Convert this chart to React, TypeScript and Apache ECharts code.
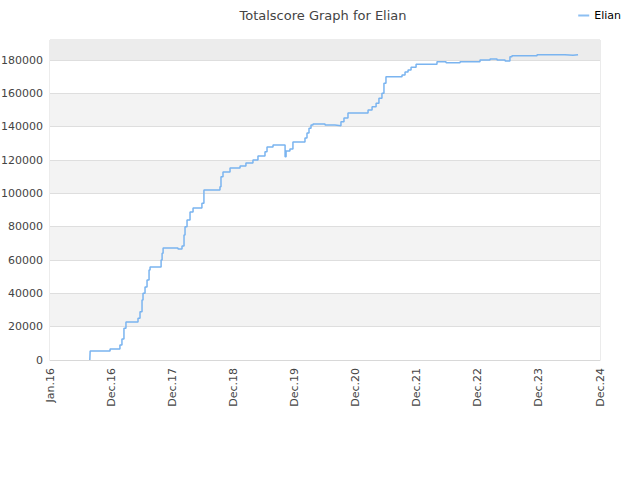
import React, { useEffect, useRef } from "react";
import * as echarts from "echarts";

const seriesName = "Elian";
const titleText = "Totalscore Graph for Elian";

const dates: string[] = [
  "2016-08-26", "2016-08-28", "2016-12-25", "2017-02-22", "2017-03-06", "2017-03-18",
  "2017-03-30", "2017-06-10", "2017-06-22", "2017-07-04", "2017-07-10", "2017-07-22",
  "2017-08-03", "2017-08-15", "2017-08-21", "2017-10-26", "2017-11-01", "2017-11-07",
  "2018-02-04", "2018-02-28", "2018-03-12", "2018-03-18", "2018-03-30", "2018-04-17",
  "2018-05-05", "2018-06-27", "2018-07-09", "2018-10-13", "2018-10-19", "2018-10-31",
  "2018-12-12", "2019-02-10", "2019-03-17", "2019-04-28", "2019-05-28", "2019-07-09",
  "2019-07-21", "2019-08-26", "2019-11-06", "2019-11-12", "2019-12-05", "2019-12-23",
  "2020-03-04", "2020-03-16", "2020-03-28", "2020-04-09", "2020-04-21", "2020-07-02",
  "2020-08-30", "2020-10-05", "2020-10-23", "2020-11-16", "2021-03-16", "2021-04-09",
  "2021-05-03", "2021-05-20", "2021-06-07", "2021-06-19", "2021-07-01", "2021-10-05",
  "2021-10-23", "2021-11-10", "2021-11-28", "2021-12-28", "2022-05-02", "2022-06-25",
  "2022-09-17", "2023-01-14", "2023-03-15", "2023-04-26", "2023-06-13", "2023-07-12",
  "2023-07-24", "2023-12-21", "2024-06-05", "2024-07-23", "2024-08-22",
];

const scores: number[] = [
  0, 5400, 6600, 9000, 12600, 19000,
  22800, 25000, 29000, 36000, 40000, 43800,
  48000, 54000, 55800, 60000, 64000, 67200,
  66600, 68400, 75000, 80000, 84000, 88800,
  91200, 94000, 102000, 104000, 110000, 112800,
  115200, 116400, 118200, 120000, 122400, 125000,
  127800, 129000, 122000, 125400, 126600, 130800,
  133200, 136200, 139000, 141000, 141600, 141000,
  140600, 143000, 145200, 148200, 150000, 152000,
  154000, 157000, 160000, 166000, 170000, 171000,
  172800, 174000, 175600, 177400, 179000, 178400,
  179000, 180000, 180600, 180000, 179400, 182000,
  182600, 183200, 182800, 183200, 183600,
];

const yTicks: number[] = [0, 20000, 40000, 60000, 80000, 100000, 120000, 140000, 160000, 180000];
const xTickYears: number[] = [2016, 2017, 2018, 2019, 2020, 2021, 2022, 2023, 2024, 2025];

const YEAR_MS = 365.25 * 86400000;
function toYear(d: string): number {
  const [y, m, day] = d.split("-").map(Number);
  return 2016 + (Date.UTC(y, m - 1, day) - Date.UTC(2016, 0, 1)) / YEAR_MS;
}

function yearLabel(v: number): string {
  const yr = Math.round(v);
  if (yr === 2016) return "Jan.16";
  return "Dec." + String(yr - 1).slice(2);
}

export default function App() {
  const ref = useRef<HTMLDivElement>(null);
  useEffect(() => {
    if (!ref.current) return;
    const chart = echarts.init(ref.current, null, { renderer: "svg" });
    const font = "DejaVu Sans";
    chart.setOption({
      animation: false,
      textStyle: { fontFamily: font },
      title: {
        text: titleText,
        left: 318,
        textAlign: "center",
        top: 4,
        textStyle: { fontSize: 13, fontWeight: "normal", color: "#444", fontFamily: font },
      },
      legend: {
        right: 14,
        top: 5,
        icon: "rect",
        itemWidth: 11,
        itemHeight: 2,
        itemGap: 8,
        textStyle: { fontSize: 11, color: "#000", fontFamily: font },
        data: [seriesName],
      },
      grid: {
        left: 50,
        right: 40,
        top: 40,
        bottom: 120,
        containLabel: false,
        outerBoundsMode: "none",
        show: true,
        borderColor: "#d8d8d8",
        borderWidth: 1,
        backgroundColor: "transparent",
      },
      xAxis: {
        type: "value",
        min: xTickYears[0],
        max: xTickYears[xTickYears.length - 1],
        interval: 1,
        axisLine: { show: true, lineStyle: { color: "#d8d8d8" } },
        axisTick: { show: false },
        splitLine: { show: false },
        axisLabel: {
          rotate: 90,
          fontSize: 11,
          color: "#444",
          margin: 8,
          formatter: (v: number) => yearLabel(v),
          fontFamily: font,
        },
      },
      yAxis: {
        type: "value",
        min: 0,
        max: 192000,
        interval: yTicks[1] - yTicks[0],
        axisLine: { show: false },
        axisTick: { show: false },
        axisLabel: {
          fontSize: 11,
          color: "#444",
          margin: 7,
          showMaxLabel: false,
          formatter: (v: number) => String(v),
          fontFamily: font,
        },
        splitLine: { show: true, lineStyle: { color: "#dedede", width: 1 } },
        splitArea: { show: true, areaStyle: { color: ["#ffffff", "#f3f3f3"] } },
      },
      series: [
        {
          name: seriesName,
          type: "line",
          step: "end",
          showSymbol: false,
          symbol: "none",
          lineStyle: { color: "#7ab4f0", width: 1.5 },
          itemStyle: { color: "#8cbff2" },
          data: dates.map((d, i) => [toYear(d), scores[i]]),
          markArea: {
            silent: true,
            itemStyle: { color: "#ececec" },
            data: [[{ yAxis: 180000 }, { yAxis: 192000 }]],
          },
          z: 3,
        },
      ],
    });
    return () => chart.dispose();
  }, []);
  return (
    <div
      ref={ref}
      style={{ position: "absolute", left: 0, top: 0, width: 640, height: 480 }}
    />
  );
}
